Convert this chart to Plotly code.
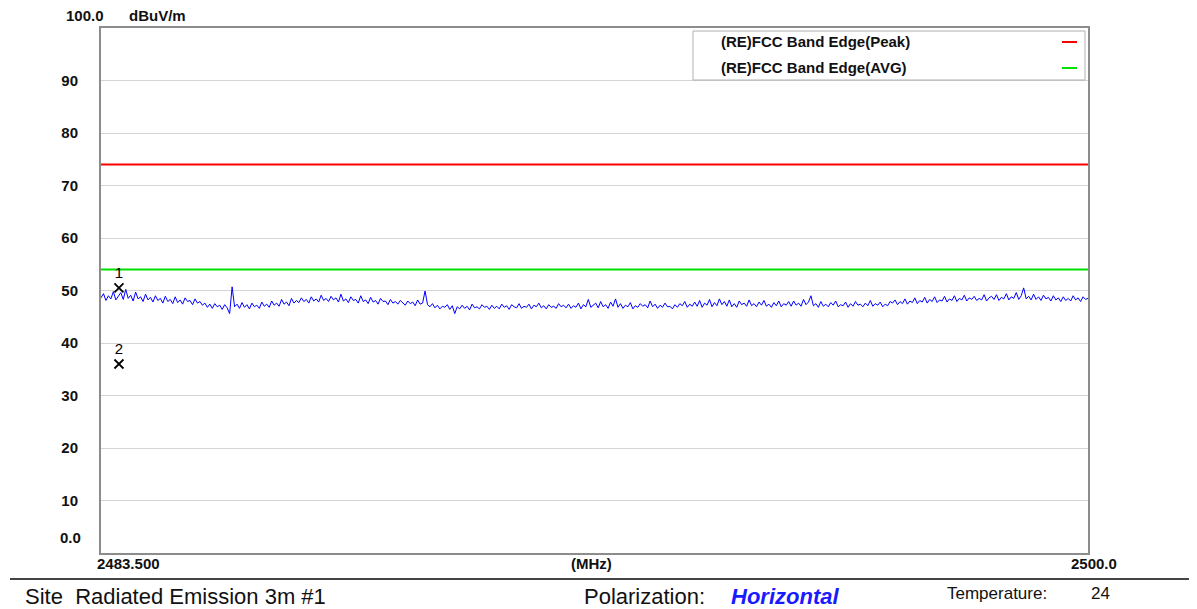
import numpy as np
import plotly.graph_objects as go

# ---------------- data ----------------
f_start, f_stop = 2483.5, 2500.0
trace_level = [
    48.6, 49.4, 48.1, 49.0, 48.4, 49.8, 48.2, 48.9, 49.6, 48.3, 50.2, 48.5, 49.1, 48.0, 49.7, 48.4, 48.8, 47.9, 49.3, 48.2,
    48.7, 47.8, 49.0, 48.1, 48.5, 47.6, 48.9, 47.9, 48.3, 47.5, 48.8, 47.7, 48.2, 47.4, 48.6, 47.9, 48.1, 47.3, 48.4, 47.6,
    47.9, 47.2, 47.6, 46.8, 47.4, 46.6, 47.5, 46.9, 47.2, 46.4, 47.3, 46.7, 45.6, 50.7, 46.9, 47.4, 46.6, 47.7, 46.8, 47.3,
    46.5, 47.6, 46.9, 47.2, 46.6, 47.8, 47.0, 47.4, 46.8, 48.0, 47.2, 47.6, 47.0, 48.3, 47.4, 47.8, 47.1, 48.5, 47.6, 48.1,
    47.7, 48.6, 47.9, 48.3, 47.6, 48.8, 48.0, 48.4, 47.8, 49.1, 48.1, 48.5, 47.9, 48.9, 48.2, 48.6, 47.8, 49.3, 48.0, 48.4,
    47.7, 48.8, 48.1, 48.3, 47.6, 49.0, 47.9, 48.2, 47.5, 48.7, 47.8, 48.1, 47.4, 48.5, 47.9, 48.0, 47.3, 48.3, 47.6, 47.9,
    47.4, 48.1, 47.7, 47.2, 48.0, 47.5, 47.8, 47.1, 48.2, 47.4, 47.6, 49.9, 47.3, 46.9, 47.5, 46.7, 47.2, 46.5, 47.0, 46.8,
    47.3, 46.4, 47.1, 45.6, 46.9, 46.5, 47.2, 46.6, 47.0, 46.3, 47.4, 46.7, 46.9, 46.5, 47.3, 46.8, 47.0, 46.4, 47.2, 46.6,
    47.0, 46.5, 47.4, 46.8, 47.1, 46.4, 47.3, 46.9, 46.7, 47.5, 46.6, 47.0, 46.8, 47.4, 46.5, 47.2, 46.9, 47.6, 46.7, 47.1,
    46.5, 47.3, 46.8, 47.0, 46.6, 47.5, 46.9, 47.2, 46.7, 47.4, 46.6, 47.1, 46.8, 47.6, 46.5, 47.3, 46.9, 48.3, 46.8, 47.2,
    47.6, 46.7, 47.9, 46.9, 47.3, 46.6, 47.8, 47.0, 48.4, 46.8, 47.5, 46.6, 47.2, 46.9, 47.7, 46.5, 47.1, 46.8, 47.5, 47.0,
    47.3, 46.7, 48.0, 46.9, 47.4, 46.6, 47.2, 46.8, 47.6, 46.9, 47.0, 46.5, 47.3, 46.8, 47.5, 47.1, 47.9, 46.8, 47.4, 47.0,
    47.8, 47.0, 48.1, 46.8, 47.6, 47.2, 48.3, 46.9, 47.7, 47.1, 48.4, 47.3, 47.9, 47.0, 48.2, 46.9, 47.5, 46.8, 48.0, 47.3,
    47.6, 47.0, 48.2, 47.1, 47.5, 46.9, 47.8, 47.2, 48.1, 47.0, 47.4, 46.8, 47.7, 47.1, 48.0, 46.9, 47.5, 47.2, 47.9, 47.0,
    48.0, 47.2, 47.6, 47.0, 48.3, 47.3, 47.8, 49.0, 47.1, 47.5, 46.8, 47.9, 47.0, 47.4, 46.9, 47.7, 47.2, 48.0, 46.9, 47.3,
    47.1, 47.8, 46.8, 47.5, 47.0, 47.9, 47.2, 47.4, 46.9, 47.6, 47.1, 48.1, 47.0, 47.5, 47.2, 47.8, 46.9, 47.4, 47.1, 47.9,
    47.6, 48.2, 47.3, 47.9, 47.5, 48.4, 47.4, 48.0, 47.7, 48.6, 47.5, 48.1, 47.8, 48.7, 47.6, 48.3, 47.9, 48.8, 47.7, 48.2,
    48.0, 48.9, 47.8, 48.4, 48.1, 49.0, 47.9, 48.5, 48.2, 49.1, 48.0, 48.6, 48.3, 48.9, 48.1, 48.5, 48.2, 49.2, 48.0, 48.6,
    48.9, 48.3, 49.2, 48.1, 48.7, 48.4, 49.4, 48.2, 48.8, 48.5, 49.6, 48.3, 49.0, 50.5, 48.4, 48.9, 48.2, 49.3, 48.3, 48.8,
    48.1, 49.1, 48.4, 48.7, 48.0, 49.0, 48.2, 48.6, 47.9, 48.8, 48.1, 48.5, 48.0, 49.0, 48.2, 48.6, 47.9, 48.8, 48.3, 48.5,
]
freqs = np.linspace(f_start, f_stop, len(trace_level))

limit_names = ["(RE)FCC Band Edge(Peak)", "(RE)FCC Band Edge(AVG)"]
limit_values = [74.0, 54.0]
limit_colors = ["#ff0000", "#00e000"]

marker_ids = ["1", "2"]
marker_freqs = [2483.80, 2483.80]
marker_levels = [50.5, 36.0]

y_ticks = [10, 20, 30, 40, 50, 60, 70, 80, 90]
y_ticktext = ["10", "20", "30", "40", "50", "60", "70", "80", "90"]

# ---------------- figure ----------------
OFF = 8  # page body margin
W, H = 1197 - OFF, 609 - OFF
L, R, T, B = 101 - OFF, 1088 - OFF, 28 - OFF, 553 - OFF
pw, ph = R - L, B - T


def px(x):
    return (x - OFF - L) / pw


def py(y):
    return (B - (y - OFF)) / ph


fig = go.Figure()

for name, val, col in zip(limit_names, limit_values, limit_colors):
    fig.add_trace(go.Scatter(x=[f_start, f_stop], y=[val, val], mode="lines",
                             line=dict(color=col, width=2), name=name, hoverinfo="skip"))

fig.add_trace(go.Scatter(x=freqs, y=trace_level, mode="lines",
                         line=dict(color="#0000ff", width=1), name="trace"))

fig.add_trace(go.Scatter(x=marker_freqs, y=marker_levels, mode="markers+text",
                         text=marker_ids, textposition="top center",
                         textfont=dict(family="Liberation Sans", size=15, color="#000000"),
                         marker=dict(symbol="x-thin-open", size=9, color="#000000",
                                     line=dict(color="#000000", width=1.8)),
                         name="markers"))

BF = dict(family="Liberation Sans", size=15, color="#111111", weight="bold")
anns = []
# y-axis end labels
anns.append(dict(x=px(106), y=py(15), text="100.0", xanchor="right", yanchor="middle", font=BF))
anns.append(dict(x=px(127), y=py(15), text="dBuV/m", xanchor="left", yanchor="middle", font=BF))
anns.append(dict(x=px(83), y=py(537), text="0.0", xanchor="right", yanchor="middle", font=BF))
# x-axis labels
anns.append(dict(x=px(128), y=py(563), text="2483.500", xanchor="center", yanchor="middle", font=BF))
anns.append(dict(x=px(591), y=py(563), text="(MHz)", xanchor="center", yanchor="middle", font=BF))
anns.append(dict(x=px(1094), y=py(563), text="2500.0", xanchor="center", yanchor="middle", font=BF))
# legend box texts
for i, name in enumerate(limit_names):
    yy = 42 + i * 26
    anns.append(dict(x=px(719), y=py(yy), text=name, xanchor="left", yanchor="middle", font=BF))
# footer
anns.append(dict(x=px(23), y=py(596), text="Site  Radiated Emission 3m #1", xanchor="left", yanchor="middle",
                 font=dict(family="Liberation Sans", size=22, color="#111")))
anns.append(dict(x=px(582), y=py(596), text="Polarization:", xanchor="left", yanchor="middle",
                 font=dict(family="Liberation Sans", size=22, color="#111")))
anns.append(dict(x=px(729), y=py(596), text="<b><i>Horizontal</i></b>", xanchor="left", yanchor="middle",
                 font=dict(family="Liberation Sans", size=22, color="#1a1aff")))
anns.append(dict(x=px(945), y=py(593), text="Temperature:", xanchor="left", yanchor="middle",
                 font=dict(family="Liberation Sans", size=17, color="#111")))
anns.append(dict(x=px(1089), y=py(593), text="24", xanchor="left", yanchor="middle",
                 font=dict(family="Liberation Sans", size=17, color="#111")))
for a in anns:
    a.update(xref="paper", yref="paper", showarrow=False)

shapes = [
    dict(type="rect", xref="paper", yref="paper", x0=px(693), x1=px(1085), y0=py(80), y1=py(31),
         line=dict(color="#b0b0b0", width=1), fillcolor="white", layer="above"),
    dict(type="line", xref="paper", yref="paper", x0=px(10), x1=px(1197), y0=py(579), y1=py(579),
         line=dict(color="#444444", width=2)),
]
for i, col in enumerate(limit_colors):
    yy = 42 + i * 26
    shapes.append(dict(type="line", xref="paper", yref="paper", x0=px(1062), x1=px(1077),
                       y0=py(yy), y1=py(yy), line=dict(color=col, width=2), layer="above"))

fig.update_layout(
    width=W, height=H,
    margin=dict(l=L, r=W - R, t=T, b=H - B, pad=0),
    paper_bgcolor="white", plot_bgcolor="white",
    showlegend=False,
    annotations=anns, shapes=shapes,
    xaxis=dict(range=[f_start, f_stop], showgrid=False, zeroline=False, showticklabels=False,
               showline=True, mirror=True, linecolor="#8c8c8c", linewidth=2, ticks=""),
    yaxis=dict(range=[0, 100], tickvals=y_ticks, ticktext=y_ticktext, showgrid=True,
               gridcolor="#d4d4d4", gridwidth=1, zeroline=False,
               showline=True, mirror=True, linecolor="#8c8c8c", linewidth=2, ticks="",
               ticklabelstandoff=18, tickfont=BF),
)

fig.write_html("out.html")
